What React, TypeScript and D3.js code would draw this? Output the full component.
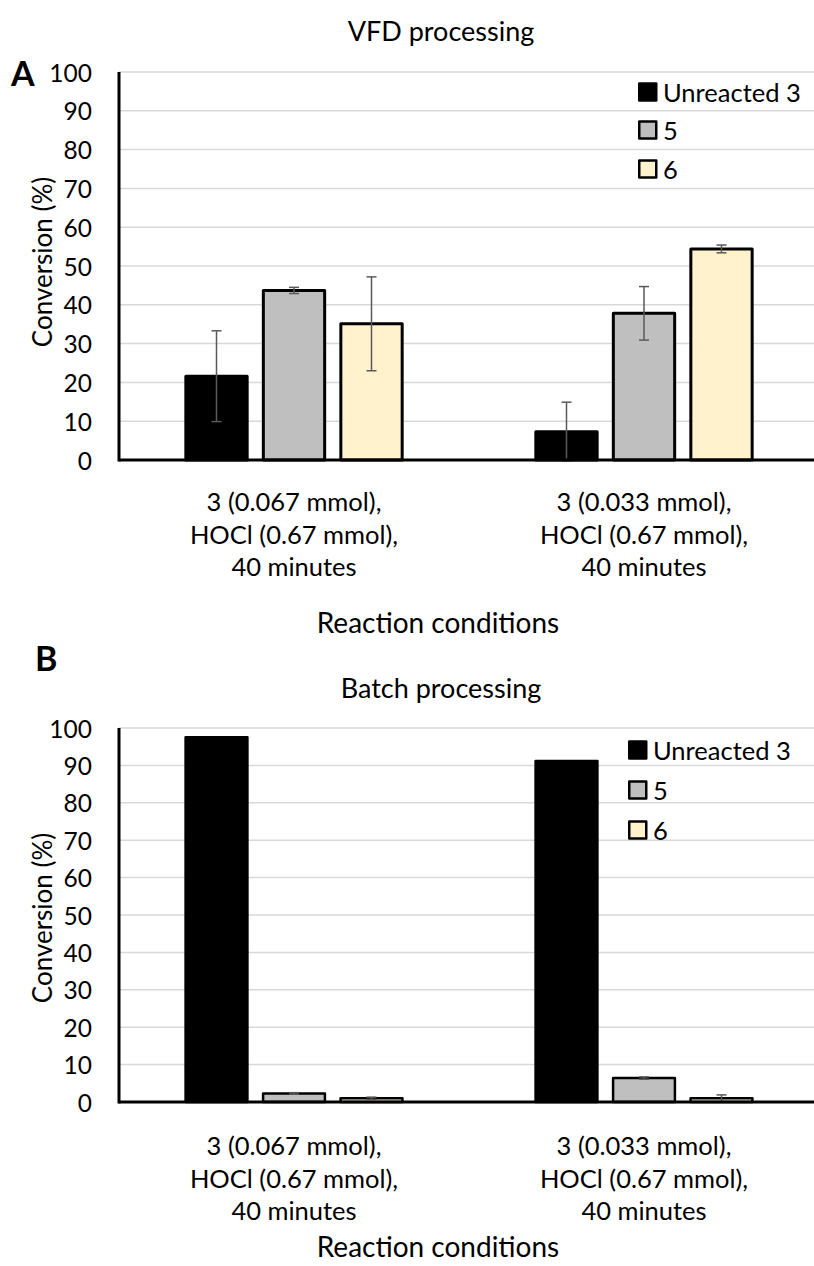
import React from "react";
import * as d3 from "d3";

const categories: string[][] = [
  ["3 (0.067 mmol),", "HOCl (0.67 mmol),", "40 minutes"],
  ["3 (0.033 mmol),", "HOCl (0.67 mmol),", "40 minutes"],
];
const seriesNames = ["Unreacted 3", "5", "6"];
const seriesColors = ["#000000", "#bfbfbf", "#fff2cc"];
const yTicks = [0, 10, 20, 30, 40, 50, 60, 70, 80, 90, 100];

// Panel A: VFD processing
const vfdUnreacted3 = [21.6, 7.3];
const vfd5 = [43.7, 37.8];
const vfd6 = [35.1, 54.4];
const vfdErrUnreacted3 = [11.7, 7.6];
const vfdErr5 = [0.8, 6.9];
const vfdErr6 = [12.1, 1.0];

// Panel B: Batch processing
const batchUnreacted3 = [97.5, 91.2];
const batch5 = [2.3, 6.4];
const batch6 = [1.0, 1.0];
const batchErrUnreacted3 = [0, 0];
const batchErr5 = [0.2, 0.3];
const batchErr6 = [0.3, 0.9];

const FONT = "Lato, 'Open Sans', sans-serif";

type PanelProps = {
  letter: string;
  letterX: number;
  letterY: number;
  title: string;
  titleY: number;
  top: number;
  bottom: number;
  values: number[][];
  errors: number[][];
  legendX: number;
  legendYs: number[];
  barStroke: number;
  catY: number;
  xTitleY: number;
  yTitleY: number;
};

function Panel(p: PanelProps) {
  const left = 119;
  const right = 819;
  const y = d3.scaleLinear().domain([0, 100]).range([p.bottom, p.top]);
  const x0 = d3.scaleBand<number>().domain([0, 1]).range([left, right]);
  const step = 77.5;
  const x1 = d3
    .scaleBand<string>()
    .domain(seriesNames)
    .range([-1.5 * step, 1.5 * step])
    .paddingInner(0.17)
    .paddingOuter(0.085);
  const center = (i: number) => (x0(i) as number) + x0.bandwidth() / 2;

  return (
    <g>
      <text x={p.letterX} y={p.letterY} fontFamily={FONT} fontWeight={700} fontSize={34} dominantBaseline="central">
        {p.letter}
      </text>
      <text x={441} y={p.titleY} fontFamily={FONT} fontSize={27} textAnchor="middle" dominantBaseline="central">
        {p.title}
      </text>
      {yTicks.map((t) => (
        <g key={t}>
          {t > 0 && (
            <line x1={left} x2={right} y1={y(t)} y2={y(t)} stroke="#d9d9d9" strokeWidth={1.5} />
          )}
          <text x={92} y={y(t)} fontFamily={FONT} fontSize={24.5} textAnchor="end" dominantBaseline="central">
            {t}
          </text>
        </g>
      ))}
      <text
        transform={`translate(42,${p.yTitleY}) rotate(-90)`}
        fontFamily={FONT}
        fontSize={26}
        textAnchor="middle"
        dominantBaseline="central"
      >
        Conversion (%)
      </text>
      {categories.map((cat, ci) =>
        seriesNames.map((s, si) => {
          const v = p.values[si][ci];
          const e = p.errors[si][ci];
          const bx = center(ci) + (x1(s) as number);
          const bw = x1.bandwidth();
          const ex = bx + bw / 2;
          return (
            <g key={`${ci}-${si}`}>
              <rect
                x={bx + p.barStroke / 2}
                y={y(v)}
                width={bw - p.barStroke}
                height={y(0) - y(v)}
                fill={seriesColors[si]}
                stroke="#000"
                strokeWidth={p.barStroke}
                strokeLinejoin="round"
              />
              {e > 0 && (
                <g stroke="#595959" strokeWidth={1.5}>
                  <line x1={ex} x2={ex} y1={y(v - e)} y2={y(v + e)} />
                  <line x1={ex - 5} x2={ex + 5} y1={y(v + e)} y2={y(v + e)} />
                  <line x1={ex - 5} x2={ex + 5} y1={y(v - e)} y2={y(v - e)} />
                </g>
              )}
            </g>
          );
        })
      )}
      <line x1={left} x2={right} y1={y(0)} y2={y(0)} stroke="#000" strokeWidth={3} />
      <line x1={left} x2={left} y1={y(0) + 1.5} y2={y(100)} stroke="#000" strokeWidth={3} />
      {categories.map((cat, ci) => (
        <text key={ci} x={center(ci)} y={p.catY} fontFamily={FONT} fontSize={25.5} textAnchor="middle">
          {cat.map((line, li) => (
            <tspan key={li} x={center(ci)} dy={li === 0 ? 0 : 32.5}>
              {line}
            </tspan>
          ))}
        </text>
      ))}
      <text x={438} y={p.xTitleY} fontFamily={FONT} fontSize={28} textAnchor="middle" dominantBaseline="central">
        Reaction conditions
      </text>
      {seriesNames.map((s, si) => (
        <g key={s}>
          <rect
            x={p.legendX + 1.25}
            y={p.legendYs[si] - 8.5}
            width={17}
            height={17}
            fill={seriesColors[si]}
            stroke="#000"
            strokeWidth={2.5}
            strokeLinejoin="round"
          />
          <text
            x={p.legendX + 25}
            y={p.legendYs[si]}
            fontFamily={FONT}
            fontSize={25.5}
            dominantBaseline="central"
          >
            {s}
          </text>
        </g>
      ))}
    </g>
  );
}

export default function App() {
  return (
    <svg
      width={814}
      height={1266}
      style={{ position: "absolute", left: 0, top: 0, background: "#fff" }}
    >
      <rect width={814} height={1266} fill="#fff" />
      <Panel
        letter="A"
        letterX={11}
        letterY={72}
        title="VFD processing"
        titleY={30}
        top={72}
        bottom={460}
        values={[vfdUnreacted3, vfd5, vfd6]}
        errors={[vfdErrUnreacted3, vfdErr5, vfdErr6]}
        legendX={638}
        legendYs={[92, 130, 169]}
        barStroke={3}
        catY={511}
        xTitleY={622}
        yTitleY={262}
      />
      <Panel
        letter="B"
        letterX={35}
        letterY={657}
        title="Batch processing"
        titleY={687}
        top={728}
        bottom={1102}
        values={[batchUnreacted3, batch5, batch6]}
        errors={[batchErrUnreacted3, batchErr5, batchErr6]}
        legendX={628}
        legendYs={[750, 790, 830]}
        barStroke={2.5}
        catY={1155}
        xTitleY={1246}
        yTitleY={918}
      />
    </svg>
  );
}
